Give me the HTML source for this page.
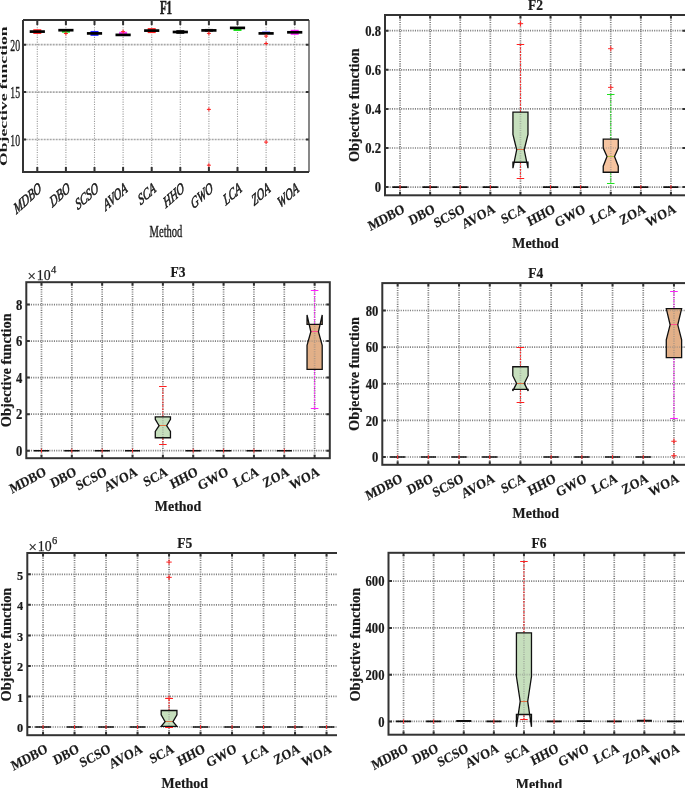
<!DOCTYPE html>
<html><head><meta charset="utf-8"><style>
html,body{margin:0;padding:0;background:#fff;width:685px;height:788px;overflow:hidden}
svg{display:block;will-change:transform;font-family:"Liberation Serif", serif}
text{fill:#1a1a1a}
</style></head><body><div id="w">
<svg width="685" height="788" viewBox="0 0 685 788" font-family='"Liberation Serif", serif' fill="#000">
<defs><filter id="bl" x="0" y="0" width="100%" height="100%" color-interpolation-filters="sRGB"><feConvolveMatrix order="3" kernelMatrix="1 2 1 2 12 2 1 2 1" divisor="24" edgeMode="duplicate"/></filter></defs>
<rect width="685" height="788" fill="#fff"/>
<path d="M37.3 20V172M65.9 20V172M94.5 20V172M123.1 20V172M151.7 20V172M180.3 20V172M208.9 20V172M237.5 20V172M266.1 20V172M294.7 20V172" stroke="#9a9a9a" stroke-width="1.1" stroke-dasharray="1.1 1.3" fill="none"/>
<path d="M23 139.5H309M23 92.1H309M23 44.7H309" stroke="#8a8a8a" stroke-width="1.7" stroke-dasharray="0.75 0.75" fill="none"/>
<rect x="33.3" y="29.25" width="8" height="4.7" fill="#ff2020"/>
<rect x="29.7" y="30.25" width="15.2" height="2.7" fill="#000"/>
<rect x="61.9" y="29.7" width="8" height="3" fill="#20e020"/>
<rect x="58.3" y="28.85" width="15.2" height="2.7" fill="#000"/>
<path d="M63.9 33.5H67.9M65.9 31.5V35.5" stroke="#ff2020" stroke-width="1"/>
<rect x="90.5" y="30.95" width="8" height="4.9" fill="#2020ff"/>
<rect x="86.9" y="32.05" width="15.2" height="2.7" fill="#000"/>
<rect x="119.1" y="31.75" width="8" height="2.5" fill="#ff40ff"/>
<rect x="115.5" y="33.55" width="15.2" height="2.7" fill="#000"/>
<path d="M121.1 31.6H125.1M123.1 29.6V33.6" stroke="#ff2020" stroke-width="1"/>
<rect x="147.7" y="28.1" width="8" height="5" fill="#ff2020"/>
<rect x="144.1" y="29.25" width="15.2" height="2.7" fill="#000"/>
<rect x="176.3" y="30" width="8" height="4" fill="#333333"/>
<rect x="172.7" y="30.65" width="15.2" height="2.7" fill="#000"/>
<rect x="204.9" y="28.9" width="8" height="3" fill="#555555"/>
<rect x="201.3" y="29.05" width="15.2" height="2.7" fill="#000"/>
<path d="M206.9 33.4H210.9M208.9 31.4V35.4" stroke="#ff2020" stroke-width="1"/>
<path d="M206.9 109.4H210.9M208.9 107.4V111.4" stroke="#ff2020" stroke-width="1"/>
<path d="M206.9 165.2H210.9M208.9 163.2V167.2" stroke="#ff2020" stroke-width="1"/>
<rect x="233.5" y="28" width="8" height="3" fill="#20e020"/>
<rect x="229.9" y="26.55" width="15.2" height="2.7" fill="#000"/>
<rect x="262.1" y="31.6" width="8" height="2" fill="#2020ff"/>
<rect x="258.5" y="32.05" width="15.2" height="2.7" fill="#000"/>
<path d="M264.1 36.1H268.1M266.1 34.1V38.1" stroke="#ff2020" stroke-width="1"/>
<path d="M264.1 43.5H268.1M266.1 41.5V45.5" stroke="#ff2020" stroke-width="1"/>
<path d="M264.1 142.1H268.1M266.1 140.1V144.1" stroke="#ff2020" stroke-width="1"/>
<rect x="290.7" y="29.8" width="8" height="5" fill="#ff20ff"/>
<rect x="287.1" y="30.95" width="15.2" height="2.7" fill="#000"/>
<path d="M37.3 172v-5M37.3 20v5M65.9 172v-5M65.9 20v5M94.5 172v-5M94.5 20v5M123.1 172v-5M123.1 20v5M151.7 172v-5M151.7 20v5M180.3 172v-5M180.3 20v5M208.9 172v-5M208.9 20v5M237.5 172v-5M237.5 20v5M266.1 172v-5M266.1 20v5M294.7 172v-5M294.7 20v5M23 139.5h3M309 139.5h-3M23 92.1h3M309 92.1h-3M23 44.7h3M309 44.7h-3" stroke="#333333" stroke-width="2" fill="none"/>
<path d="M309 20V172" stroke="#555" stroke-width="1.4"/>
<path d="M23 20V172H309M23 20H309" stroke="#333333" stroke-width="2" fill="none"/>
<text transform="translate(20.1 145.7) scale(0.61 1)" text-anchor="end" font-size="16" stroke="#222" stroke-width="0.35">10</text>
<text transform="translate(20.1 98.3) scale(0.61 1)" text-anchor="end" font-size="16" stroke="#222" stroke-width="0.35">15</text>
<text transform="translate(20.1 50.9) scale(0.61 1)" text-anchor="end" font-size="16" stroke="#222" stroke-width="0.35">20</text>
<text transform="translate(42.1 191) scale(0.64 1) rotate(-30)" text-anchor="end" font-style="italic" font-size="16.2" stroke="#222" stroke-width="0.6">MDBO</text>
<text transform="translate(70.7 191) scale(0.64 1) rotate(-30)" text-anchor="end" font-style="italic" font-size="16.2" stroke="#222" stroke-width="0.6">DBO</text>
<text transform="translate(99.3 191) scale(0.64 1) rotate(-30)" text-anchor="end" font-style="italic" font-size="16.2" stroke="#222" stroke-width="0.6">SCSO</text>
<text transform="translate(127.9 191) scale(0.64 1) rotate(-30)" text-anchor="end" font-style="italic" font-size="16.2" stroke="#222" stroke-width="0.6">AVOA</text>
<text transform="translate(156.5 191) scale(0.64 1) rotate(-30)" text-anchor="end" font-style="italic" font-size="16.2" stroke="#222" stroke-width="0.6">SCA</text>
<text transform="translate(185.1 191) scale(0.64 1) rotate(-30)" text-anchor="end" font-style="italic" font-size="16.2" stroke="#222" stroke-width="0.6">HHO</text>
<text transform="translate(213.7 191) scale(0.64 1) rotate(-30)" text-anchor="end" font-style="italic" font-size="16.2" stroke="#222" stroke-width="0.6">GWO</text>
<text transform="translate(242.3 191) scale(0.64 1) rotate(-30)" text-anchor="end" font-style="italic" font-size="16.2" stroke="#222" stroke-width="0.6">LCA</text>
<text transform="translate(270.9 191) scale(0.64 1) rotate(-30)" text-anchor="end" font-style="italic" font-size="16.2" stroke="#222" stroke-width="0.6">ZOA</text>
<text transform="translate(299.5 191) scale(0.64 1) rotate(-30)" text-anchor="end" font-style="italic" font-size="16.2" stroke="#222" stroke-width="0.6">WOA</text>
<text transform="translate(166 236.6) scale(0.61 1)" text-anchor="middle" font-size="17.3" stroke="#222" stroke-width="0.4">Method</text>
<text transform="translate(166 13.5) scale(0.61 1)" text-anchor="middle" font-weight="bold" font-size="18" stroke="#222" stroke-width="0.6">F1</text>
<text transform="translate(7.0 96.2) scale(0.61 1) rotate(-90)" text-anchor="middle" font-weight="bold" font-size="17.65">Objective function</text>
<clipPath id="c2"><rect x="385" y="15" width="301" height="180.3"/></clipPath>
<clipPath id="o2"><rect x="0" y="0" width="700" height="788"/></clipPath>
<g clip-path="url(#o2)">
<path d="M400.05 15V195.3M430.15 15V195.3M460.25 15V195.3M490.35 15V195.3M520.45 15V195.3M550.55 15V195.3M580.65 15V195.3M610.75 15V195.3M640.85 15V195.3M670.95 15V195.3M385 187.1H686M385 148H686M385 108.9H686M385 69.8H686M385 30.7H686" stroke="#808080" stroke-width="1.7" stroke-dasharray="1.1 1.2" fill="none"/>
<g clip-path="url(#c2)">
<path d="M392.53 187.1H407.57" stroke="#111" stroke-width="1.6"/>
<path d="M400.05 185.1V189.1" stroke="#ff3030" stroke-width="1"/>
<path d="M422.62 187.1H437.67" stroke="#111" stroke-width="1.6"/>
<path d="M430.15 185.1V189.1" stroke="#ff3030" stroke-width="1"/>
<path d="M452.73 187.1H467.77" stroke="#111" stroke-width="1.6"/>
<path d="M460.25 185.1V189.1" stroke="#ff3030" stroke-width="1"/>
<path d="M482.83 187.1H497.88" stroke="#111" stroke-width="1.6"/>
<path d="M490.35 185.1V189.1" stroke="#ff3030" stroke-width="1"/>
<path d="M520.45 112.22V44.38M520.45 162.27V178.3" stroke="#ff2020" stroke-width="1" stroke-dasharray="2 1.3"/>
<path d="M516.69 44.5H524.21M516.69 178.5H524.21" stroke="#ff2020" stroke-width="1"/>
<path d="M512.93 112.22 L512.93 134.31 L516.69 149.76 L512.93 168.14 L512.93 162.27 L527.98 162.27 L527.98 168.14 L524.21 149.76 L527.98 134.31 L527.98 112.22Z" fill="#c6dfbd" stroke="none"/>
<clipPath id="b24"><path d="M512.93 112.22 L512.93 134.31 L516.69 149.76 L512.93 168.14 L512.93 162.27 L527.98 162.27 L527.98 168.14 L524.21 149.76 L527.98 134.31 L527.98 112.22Z"/></clipPath>
<path clip-path="url(#b24)" d="M400.05 15V195.3M430.15 15V195.3M460.25 15V195.3M490.35 15V195.3M520.45 15V195.3M550.55 15V195.3M580.65 15V195.3M610.75 15V195.3M640.85 15V195.3M670.95 15V195.3M385 187.1H686M385 148H686M385 108.9H686M385 69.8H686M385 30.7H686" stroke="#808080" stroke-width="1.7" stroke-dasharray="1.1 1.2" fill="none" opacity="0.45"/>
<path d="M516.69 149.5H524.21" stroke="#e07040" stroke-width="1"/>
<path d="M512.93 112.22 L512.93 134.31 L516.69 149.76 L512.93 168.14 L512.93 162.27 L527.98 162.27 L527.98 168.14 L524.21 149.76 L527.98 134.31 L527.98 112.22Z" fill="none" stroke="#111" stroke-width="1.3" stroke-linejoin="miter"/>
<path d="M517.75 23.66H523.15M520.45 20.96V26.36" stroke="#ff2020" stroke-width="1"/>
<path d="M543.02 187.1H558.07" stroke="#111" stroke-width="1.6"/>
<path d="M550.55 185.1V189.1" stroke="#ff3030" stroke-width="1"/>
<path d="M573.12 187.1H588.17" stroke="#111" stroke-width="1.6"/>
<path d="M580.65 185.1V189.1" stroke="#ff3030" stroke-width="1"/>
<path d="M610.75 139.2V94.24M610.75 172.24V183.09" stroke="#20e020" stroke-width="1" stroke-dasharray="2 1.3"/>
<path d="M606.99 94.5H614.51M606.99 183.5H614.51" stroke="#20e020" stroke-width="1"/>
<path d="M603.23 139.2 L603.23 148 L606.99 156.6 L603.23 166.18 L603.23 172.24 L618.27 172.24 L618.27 166.18 L614.51 156.6 L618.27 148 L618.27 139.2Z" fill="#f6c4a0" stroke="none"/>
<clipPath id="b27"><path d="M603.23 139.2 L603.23 148 L606.99 156.6 L603.23 166.18 L603.23 172.24 L618.27 172.24 L618.27 166.18 L614.51 156.6 L618.27 148 L618.27 139.2Z"/></clipPath>
<path clip-path="url(#b27)" d="M400.05 15V195.3M430.15 15V195.3M460.25 15V195.3M490.35 15V195.3M520.45 15V195.3M550.55 15V195.3M580.65 15V195.3M610.75 15V195.3M640.85 15V195.3M670.95 15V195.3M385 187.1H686M385 148H686M385 108.9H686M385 69.8H686M385 30.7H686" stroke="#808080" stroke-width="1.7" stroke-dasharray="1.1 1.2" fill="none" opacity="0.45"/>
<path d="M606.99 156.5H614.51" stroke="#b0c040" stroke-width="1"/>
<path d="M603.23 139.2 L603.23 148 L606.99 156.6 L603.23 166.18 L603.23 172.24 L618.27 172.24 L618.27 166.18 L614.51 156.6 L618.27 148 L618.27 139.2Z" fill="none" stroke="#111" stroke-width="1.3" stroke-linejoin="miter"/>
<path d="M608.05 48.69H613.45M610.75 45.99V51.39" stroke="#ff3030" stroke-width="1"/>
<path d="M608.05 87.39H613.45M610.75 84.69V90.09" stroke="#ff3030" stroke-width="1"/>
<path d="M633.33 187.1H648.38" stroke="#111" stroke-width="1.6"/>
<path d="M640.85 185.1V189.1" stroke="#ff3030" stroke-width="1"/>
<path d="M663.43 187.1H678.48" stroke="#111" stroke-width="1.6"/>
<path d="M670.95 185.1V189.1" stroke="#ff3030" stroke-width="1"/>
</g>
<path d="M400.05 195.3v-3.5M400.05 15v3.5M430.15 195.3v-3.5M430.15 15v3.5M460.25 195.3v-3.5M460.25 15v3.5M490.35 195.3v-3.5M490.35 15v3.5M520.45 195.3v-3.5M520.45 15v3.5M550.55 195.3v-3.5M550.55 15v3.5M580.65 195.3v-3.5M580.65 15v3.5M610.75 195.3v-3.5M610.75 15v3.5M640.85 195.3v-3.5M640.85 15v3.5M670.95 195.3v-3.5M670.95 15v3.5M385 187.1h3.5M686 187.1h-3.5M385 148h3.5M686 148h-3.5M385 108.9h3.5M686 108.9h-3.5M385 69.8h3.5M686 69.8h-3.5M385 30.7h3.5M686 30.7h-3.5" stroke="#333333" stroke-width="2" fill="none"/>
<rect x="385" y="15" width="301" height="180.3" fill="none" stroke="#333333" stroke-width="2"/>
<text transform="translate(381 192.4) scale(0.93 1)" text-anchor="end" font-weight="bold" stroke="#1a1a1a" stroke-width="0.2" font-size="13.6">0</text>
<text transform="translate(381 153.3) scale(0.93 1)" text-anchor="end" font-weight="bold" stroke="#1a1a1a" stroke-width="0.2" font-size="13.6">0.2</text>
<text transform="translate(381 114.2) scale(0.93 1)" text-anchor="end" font-weight="bold" stroke="#1a1a1a" stroke-width="0.2" font-size="13.6">0.4</text>
<text transform="translate(381 75.1) scale(0.93 1)" text-anchor="end" font-weight="bold" stroke="#1a1a1a" stroke-width="0.2" font-size="13.6">0.6</text>
<text transform="translate(381 36) scale(0.93 1)" text-anchor="end" font-weight="bold" stroke="#1a1a1a" stroke-width="0.2" font-size="13.6">0.8</text>
<text transform="translate(405.65 211.9) scale(0.9 1) rotate(-26)" text-anchor="end" font-weight="bold" stroke="#1a1a1a" stroke-width="0.2" font-size="14">MDBO</text>
<text transform="translate(435.75 211.9) scale(0.9 1) rotate(-26)" text-anchor="end" font-weight="bold" stroke="#1a1a1a" stroke-width="0.2" font-size="14">DBO</text>
<text transform="translate(465.85 211.9) scale(0.9 1) rotate(-26)" text-anchor="end" font-weight="bold" stroke="#1a1a1a" stroke-width="0.2" font-size="14">SCSO</text>
<text transform="translate(495.95 211.9) scale(0.9 1) rotate(-26)" text-anchor="end" font-weight="bold" stroke="#1a1a1a" stroke-width="0.2" font-size="14">AVOA</text>
<text transform="translate(526.05 211.9) scale(0.9 1) rotate(-26)" text-anchor="end" font-weight="bold" stroke="#1a1a1a" stroke-width="0.2" font-size="14">SCA</text>
<text transform="translate(556.15 211.9) scale(0.9 1) rotate(-26)" text-anchor="end" font-weight="bold" stroke="#1a1a1a" stroke-width="0.2" font-size="14">HHO</text>
<text transform="translate(586.25 211.9) scale(0.9 1) rotate(-26)" text-anchor="end" font-weight="bold" stroke="#1a1a1a" stroke-width="0.2" font-size="14">GWO</text>
<text transform="translate(616.35 211.9) scale(0.9 1) rotate(-26)" text-anchor="end" font-weight="bold" stroke="#1a1a1a" stroke-width="0.2" font-size="14">LCA</text>
<text transform="translate(646.45 211.9) scale(0.9 1) rotate(-26)" text-anchor="end" font-weight="bold" stroke="#1a1a1a" stroke-width="0.2" font-size="14">ZOA</text>
<text transform="translate(676.55 211.9) scale(0.9 1) rotate(-26)" text-anchor="end" font-weight="bold" stroke="#1a1a1a" stroke-width="0.2" font-size="14">WOA</text>
<text transform="translate(535.5 247.8) scale(0.96 1)" text-anchor="middle" font-weight="bold" stroke="#1a1a1a" stroke-width="0.2" font-size="14.5">Method</text>
<text transform="translate(535.5 9.8) scale(0.93 1)" text-anchor="middle" font-weight="bold" stroke="#1a1a1a" stroke-width="0.2" font-size="14.5">F2</text>
<text transform="translate(359.3 105.15) scale(1.06 1) rotate(-90)" text-anchor="middle" font-weight="bold" font-size="14.4" stroke="#1a1a1a" stroke-width="0.2">Objective function</text>
</g>
<clipPath id="c3"><rect x="26.3" y="282.2" width="303.5" height="176"/></clipPath>
<clipPath id="o3"><rect x="0" y="0" width="700" height="788"/></clipPath>
<g clip-path="url(#o3)">
<path d="M41.48 282.2V458.2M71.83 282.2V458.2M102.17 282.2V458.2M132.53 282.2V458.2M162.88 282.2V458.2M193.23 282.2V458.2M223.58 282.2V458.2M253.93 282.2V458.2M284.28 282.2V458.2M314.62 282.2V458.2M26.3 450.7H329.8M26.3 414.16H329.8M26.3 377.62H329.8M26.3 341.08H329.8M26.3 304.54H329.8" stroke="#808080" stroke-width="1.7" stroke-dasharray="1.1 1.2" fill="none"/>
<g clip-path="url(#c3)">
<path d="M33.89 450.7H49.06" stroke="#111" stroke-width="1.6"/>
<path d="M41.48 448.7V452.7" stroke="#ff3030" stroke-width="1"/>
<path d="M64.24 450.7H79.41" stroke="#111" stroke-width="1.6"/>
<path d="M71.83 448.7V452.7" stroke="#ff3030" stroke-width="1"/>
<path d="M94.59 450.7H109.76" stroke="#111" stroke-width="1.6"/>
<path d="M102.17 448.7V452.7" stroke="#ff3030" stroke-width="1"/>
<path d="M124.94 450.7H140.11" stroke="#111" stroke-width="1.6"/>
<path d="M132.53 448.7V452.7" stroke="#ff3030" stroke-width="1"/>
<path d="M162.88 416.81V386.57M162.88 437.73V444.85" stroke="#ff2020" stroke-width="1" stroke-dasharray="2 1.3"/>
<path d="M159.08 386.5H166.67M159.08 444.5H166.67" stroke="#ff2020" stroke-width="1"/>
<path d="M155.29 416.81 L155.29 419.28 L159.08 425.67 L155.29 431.52 L155.29 437.73 L170.46 437.73 L170.46 431.52 L166.67 425.67 L170.46 419.28 L170.46 416.81Z" fill="#c6dfbd" stroke="none"/>
<clipPath id="b34"><path d="M155.29 416.81 L155.29 419.28 L159.08 425.67 L155.29 431.52 L155.29 437.73 L170.46 437.73 L170.46 431.52 L166.67 425.67 L170.46 419.28 L170.46 416.81Z"/></clipPath>
<path clip-path="url(#b34)" d="M41.48 282.2V458.2M71.83 282.2V458.2M102.17 282.2V458.2M132.53 282.2V458.2M162.88 282.2V458.2M193.23 282.2V458.2M223.58 282.2V458.2M253.93 282.2V458.2M284.28 282.2V458.2M314.62 282.2V458.2M26.3 450.7H329.8M26.3 414.16H329.8M26.3 377.62H329.8M26.3 341.08H329.8M26.3 304.54H329.8" stroke="#808080" stroke-width="1.7" stroke-dasharray="1.1 1.2" fill="none" opacity="0.45"/>
<path d="M159.08 425.5H166.67" stroke="#e07040" stroke-width="1"/>
<path d="M155.29 416.81 L155.29 419.28 L159.08 425.67 L155.29 431.52 L155.29 437.73 L170.46 437.73 L170.46 431.52 L166.67 425.67 L170.46 419.28 L170.46 416.81Z" fill="none" stroke="#111" stroke-width="1.3" stroke-linejoin="miter"/>
<path d="M185.64 450.7H200.81" stroke="#111" stroke-width="1.6"/>
<path d="M193.23 448.7V452.7" stroke="#ff3030" stroke-width="1"/>
<path d="M215.99 450.7H231.16" stroke="#111" stroke-width="1.6"/>
<path d="M223.58 448.7V452.7" stroke="#ff3030" stroke-width="1"/>
<path d="M246.34 450.7H261.51" stroke="#111" stroke-width="1.6"/>
<path d="M253.93 448.7V452.7" stroke="#ff3030" stroke-width="1"/>
<path d="M276.69 450.7H291.86" stroke="#111" stroke-width="1.6"/>
<path d="M284.28 448.7V452.7" stroke="#ff3030" stroke-width="1"/>
<path d="M314.62 324.45V290.65M314.62 369.4V408.5" stroke="#ff20ff" stroke-width="1" stroke-dasharray="2 1.3"/>
<path d="M310.83 290.5H318.42M310.83 408.5H318.42" stroke="#ff20ff" stroke-width="1"/>
<path d="M307.04 324.45 L307.04 314.95 L310.83 331.76 L307.04 345.28 L307.04 369.4 L322.21 369.4 L322.21 345.28 L318.42 331.76 L322.21 314.95 L322.21 324.45Z" fill="#e2b088" stroke="none"/>
<clipPath id="b39"><path d="M307.04 324.45 L307.04 314.95 L310.83 331.76 L307.04 345.28 L307.04 369.4 L322.21 369.4 L322.21 345.28 L318.42 331.76 L322.21 314.95 L322.21 324.45Z"/></clipPath>
<path clip-path="url(#b39)" d="M41.48 282.2V458.2M71.83 282.2V458.2M102.17 282.2V458.2M132.53 282.2V458.2M162.88 282.2V458.2M193.23 282.2V458.2M223.58 282.2V458.2M253.93 282.2V458.2M284.28 282.2V458.2M314.62 282.2V458.2M26.3 450.7H329.8M26.3 414.16H329.8M26.3 377.62H329.8M26.3 341.08H329.8M26.3 304.54H329.8" stroke="#808080" stroke-width="1.7" stroke-dasharray="1.1 1.2" fill="none" opacity="0.45"/>
<path d="M310.83 331.5H318.42" stroke="#ff5090" stroke-width="1"/>
<path d="M307.04 324.45 L307.04 314.95 L310.83 331.76 L307.04 345.28 L307.04 369.4 L322.21 369.4 L322.21 345.28 L318.42 331.76 L322.21 314.95 L322.21 324.45Z" fill="none" stroke="#111" stroke-width="1.3" stroke-linejoin="miter"/>
</g>
<path d="M41.48 458.2v-3.5M41.48 282.2v3.5M71.83 458.2v-3.5M71.83 282.2v3.5M102.17 458.2v-3.5M102.17 282.2v3.5M132.53 458.2v-3.5M132.53 282.2v3.5M162.88 458.2v-3.5M162.88 282.2v3.5M193.23 458.2v-3.5M193.23 282.2v3.5M223.58 458.2v-3.5M223.58 282.2v3.5M253.93 458.2v-3.5M253.93 282.2v3.5M284.28 458.2v-3.5M284.28 282.2v3.5M314.62 458.2v-3.5M314.62 282.2v3.5M26.3 450.7h3.5M329.8 450.7h-3.5M26.3 414.16h3.5M329.8 414.16h-3.5M26.3 377.62h3.5M329.8 377.62h-3.5M26.3 341.08h3.5M329.8 341.08h-3.5M26.3 304.54h3.5M329.8 304.54h-3.5" stroke="#333333" stroke-width="2" fill="none"/>
<rect x="26.3" y="282.2" width="303.5" height="176" fill="none" stroke="#333333" stroke-width="2"/>
<text transform="translate(22.3 456) scale(0.93 1)" text-anchor="end" font-weight="bold" stroke="#1a1a1a" stroke-width="0.2" font-size="13.6">0</text>
<text transform="translate(22.3 419.46) scale(0.93 1)" text-anchor="end" font-weight="bold" stroke="#1a1a1a" stroke-width="0.2" font-size="13.6">2</text>
<text transform="translate(22.3 382.92) scale(0.93 1)" text-anchor="end" font-weight="bold" stroke="#1a1a1a" stroke-width="0.2" font-size="13.6">4</text>
<text transform="translate(22.3 346.38) scale(0.93 1)" text-anchor="end" font-weight="bold" stroke="#1a1a1a" stroke-width="0.2" font-size="13.6">6</text>
<text transform="translate(22.3 309.84) scale(0.93 1)" text-anchor="end" font-weight="bold" stroke="#1a1a1a" stroke-width="0.2" font-size="13.6">8</text>
<text transform="translate(47.08 474.8) scale(0.9 1) rotate(-26)" text-anchor="end" font-weight="bold" stroke="#1a1a1a" stroke-width="0.2" font-size="14">MDBO</text>
<text transform="translate(77.42 474.8) scale(0.9 1) rotate(-26)" text-anchor="end" font-weight="bold" stroke="#1a1a1a" stroke-width="0.2" font-size="14">DBO</text>
<text transform="translate(107.77 474.8) scale(0.9 1) rotate(-26)" text-anchor="end" font-weight="bold" stroke="#1a1a1a" stroke-width="0.2" font-size="14">SCSO</text>
<text transform="translate(138.12 474.8) scale(0.9 1) rotate(-26)" text-anchor="end" font-weight="bold" stroke="#1a1a1a" stroke-width="0.2" font-size="14">AVOA</text>
<text transform="translate(168.48 474.8) scale(0.9 1) rotate(-26)" text-anchor="end" font-weight="bold" stroke="#1a1a1a" stroke-width="0.2" font-size="14">SCA</text>
<text transform="translate(198.83 474.8) scale(0.9 1) rotate(-26)" text-anchor="end" font-weight="bold" stroke="#1a1a1a" stroke-width="0.2" font-size="14">HHO</text>
<text transform="translate(229.18 474.8) scale(0.9 1) rotate(-26)" text-anchor="end" font-weight="bold" stroke="#1a1a1a" stroke-width="0.2" font-size="14">GWO</text>
<text transform="translate(259.53 474.8) scale(0.9 1) rotate(-26)" text-anchor="end" font-weight="bold" stroke="#1a1a1a" stroke-width="0.2" font-size="14">LCA</text>
<text transform="translate(289.88 474.8) scale(0.9 1) rotate(-26)" text-anchor="end" font-weight="bold" stroke="#1a1a1a" stroke-width="0.2" font-size="14">ZOA</text>
<text transform="translate(320.23 474.8) scale(0.9 1) rotate(-26)" text-anchor="end" font-weight="bold" stroke="#1a1a1a" stroke-width="0.2" font-size="14">WOA</text>
<text transform="translate(178.05 510.7) scale(0.96 1)" text-anchor="middle" font-weight="bold" stroke="#1a1a1a" stroke-width="0.2" font-size="14.5">Method</text>
<text transform="translate(178.05 277) scale(0.93 1)" text-anchor="middle" font-weight="bold" stroke="#1a1a1a" stroke-width="0.2" font-size="14.5">F3</text>
<text transform="translate(10.6 370.2) scale(1.06 1) rotate(-90)" text-anchor="middle" font-weight="bold" font-size="14.4" stroke="#1a1a1a" stroke-width="0.2">Objective function</text>
<text transform="translate(27.4 279.8)" font-size="13.4" stroke="#222" stroke-width="0.25"><tspan dy="1.2" font-size="14.8">×</tspan><tspan dx="1.1" dy="-1.2" font-size="13.8">10</tspan><tspan dx="0.4" dy="-6.4" font-size="10.5">4</tspan></text>
</g>
<clipPath id="c4"><rect x="382.3" y="283.1" width="307" height="181.7"/></clipPath>
<clipPath id="o4"><rect x="0" y="0" width="700" height="788"/></clipPath>
<g clip-path="url(#o4)">
<path d="M397.65 283.1V464.8M428.35 283.1V464.8M459.05 283.1V464.8M489.75 283.1V464.8M520.45 283.1V464.8M551.15 283.1V464.8M581.85 283.1V464.8M612.55 283.1V464.8M643.25 283.1V464.8M673.95 283.1V464.8M382.3 457H689.3M382.3 420.38H689.3M382.3 383.76H689.3M382.3 347.14H689.3M382.3 310.52H689.3" stroke="#808080" stroke-width="1.7" stroke-dasharray="1.1 1.2" fill="none"/>
<g clip-path="url(#c4)">
<path d="M389.98 457H405.33" stroke="#111" stroke-width="1.6"/>
<path d="M397.65 455V459" stroke="#ff3030" stroke-width="1"/>
<path d="M420.68 457H436.03" stroke="#111" stroke-width="1.6"/>
<path d="M428.35 455V459" stroke="#ff3030" stroke-width="1"/>
<path d="M451.38 457H466.73" stroke="#111" stroke-width="1.6"/>
<path d="M459.05 455V459" stroke="#ff3030" stroke-width="1"/>
<path d="M482.07 457H497.43" stroke="#111" stroke-width="1.6"/>
<path d="M489.75 455V459" stroke="#ff3030" stroke-width="1"/>
<path d="M520.45 366.73V347.14M520.45 389.44V402.44" stroke="#ff2020" stroke-width="1" stroke-dasharray="2 1.3"/>
<path d="M516.61 347.5H524.29M516.61 402.5H524.29" stroke="#ff2020" stroke-width="1"/>
<path d="M512.78 366.73 L512.78 375.7 L516.61 383.39 L512.78 390.9 L512.78 389.44 L528.12 389.44 L528.12 390.9 L524.29 383.39 L528.12 375.7 L528.12 366.73Z" fill="#c6dfbd" stroke="none"/>
<clipPath id="b44"><path d="M512.78 366.73 L512.78 375.7 L516.61 383.39 L512.78 390.9 L512.78 389.44 L528.12 389.44 L528.12 390.9 L524.29 383.39 L528.12 375.7 L528.12 366.73Z"/></clipPath>
<path clip-path="url(#b44)" d="M397.65 283.1V464.8M428.35 283.1V464.8M459.05 283.1V464.8M489.75 283.1V464.8M520.45 283.1V464.8M551.15 283.1V464.8M581.85 283.1V464.8M612.55 283.1V464.8M643.25 283.1V464.8M673.95 283.1V464.8M382.3 457H689.3M382.3 420.38H689.3M382.3 383.76H689.3M382.3 347.14H689.3M382.3 310.52H689.3" stroke="#808080" stroke-width="1.7" stroke-dasharray="1.1 1.2" fill="none" opacity="0.45"/>
<path d="M516.61 383.5H524.29" stroke="#e07040" stroke-width="1"/>
<path d="M512.78 366.73 L512.78 375.7 L516.61 383.39 L512.78 390.9 L512.78 389.44 L528.12 389.44 L528.12 390.9 L524.29 383.39 L528.12 375.7 L528.12 366.73Z" fill="none" stroke="#111" stroke-width="1.3" stroke-linejoin="miter"/>
<path d="M543.48 457H558.82" stroke="#111" stroke-width="1.6"/>
<path d="M551.15 455V459" stroke="#ff3030" stroke-width="1"/>
<path d="M574.18 457H589.52" stroke="#111" stroke-width="1.6"/>
<path d="M581.85 455V459" stroke="#ff3030" stroke-width="1"/>
<path d="M604.88 457H620.22" stroke="#111" stroke-width="1.6"/>
<path d="M612.55 455V459" stroke="#ff3030" stroke-width="1"/>
<path d="M635.58 457H650.92" stroke="#111" stroke-width="1.6"/>
<path d="M643.25 455V459" stroke="#ff3030" stroke-width="1"/>
<path d="M673.95 308.69V291.48M673.95 357.58V418.73" stroke="#ff20ff" stroke-width="1" stroke-dasharray="2 1.3"/>
<path d="M670.11 291.5H677.79M670.11 418.5H677.79" stroke="#ff20ff" stroke-width="1"/>
<path d="M666.28 308.69 L666.28 308.69 L670.11 324.8 L666.28 339.82 L666.28 357.58 L681.62 357.58 L681.62 339.82 L677.79 324.8 L681.62 308.69 L681.62 308.69Z" fill="#e2b088" stroke="none"/>
<clipPath id="b49"><path d="M666.28 308.69 L666.28 308.69 L670.11 324.8 L666.28 339.82 L666.28 357.58 L681.62 357.58 L681.62 339.82 L677.79 324.8 L681.62 308.69 L681.62 308.69Z"/></clipPath>
<path clip-path="url(#b49)" d="M397.65 283.1V464.8M428.35 283.1V464.8M459.05 283.1V464.8M489.75 283.1V464.8M520.45 283.1V464.8M551.15 283.1V464.8M581.85 283.1V464.8M612.55 283.1V464.8M643.25 283.1V464.8M673.95 283.1V464.8M382.3 457H689.3M382.3 420.38H689.3M382.3 383.76H689.3M382.3 347.14H689.3M382.3 310.52H689.3" stroke="#808080" stroke-width="1.7" stroke-dasharray="1.1 1.2" fill="none" opacity="0.45"/>
<path d="M670.11 324.5H677.79" stroke="#ff5090" stroke-width="1"/>
<path d="M666.28 308.69 L666.28 308.69 L670.11 324.8 L666.28 339.82 L666.28 357.58 L681.62 357.58 L681.62 339.82 L677.79 324.8 L681.62 308.69 L681.62 308.69Z" fill="none" stroke="#111" stroke-width="1.3" stroke-linejoin="miter"/>
<path d="M671.25 441.25H676.65M673.95 438.55V443.95" stroke="#ff2020" stroke-width="1"/>
<path d="M671.25 455.72H676.65M673.95 453.02V458.42" stroke="#ff2020" stroke-width="1"/>
</g>
<path d="M397.65 464.8v-3.5M397.65 283.1v3.5M428.35 464.8v-3.5M428.35 283.1v3.5M459.05 464.8v-3.5M459.05 283.1v3.5M489.75 464.8v-3.5M489.75 283.1v3.5M520.45 464.8v-3.5M520.45 283.1v3.5M551.15 464.8v-3.5M551.15 283.1v3.5M581.85 464.8v-3.5M581.85 283.1v3.5M612.55 464.8v-3.5M612.55 283.1v3.5M643.25 464.8v-3.5M643.25 283.1v3.5M673.95 464.8v-3.5M673.95 283.1v3.5M382.3 457h3.5M689.3 457h-3.5M382.3 420.38h3.5M689.3 420.38h-3.5M382.3 383.76h3.5M689.3 383.76h-3.5M382.3 347.14h3.5M689.3 347.14h-3.5M382.3 310.52h3.5M689.3 310.52h-3.5" stroke="#333333" stroke-width="2" fill="none"/>
<rect x="382.3" y="283.1" width="307" height="181.7" fill="none" stroke="#333333" stroke-width="2"/>
<text transform="translate(378.3 462.3) scale(0.93 1)" text-anchor="end" font-weight="bold" stroke="#1a1a1a" stroke-width="0.2" font-size="13.6">0</text>
<text transform="translate(378.3 425.68) scale(0.93 1)" text-anchor="end" font-weight="bold" stroke="#1a1a1a" stroke-width="0.2" font-size="13.6">20</text>
<text transform="translate(378.3 389.06) scale(0.93 1)" text-anchor="end" font-weight="bold" stroke="#1a1a1a" stroke-width="0.2" font-size="13.6">40</text>
<text transform="translate(378.3 352.44) scale(0.93 1)" text-anchor="end" font-weight="bold" stroke="#1a1a1a" stroke-width="0.2" font-size="13.6">60</text>
<text transform="translate(378.3 315.82) scale(0.93 1)" text-anchor="end" font-weight="bold" stroke="#1a1a1a" stroke-width="0.2" font-size="13.6">80</text>
<text transform="translate(403.25 481.4) scale(0.9 1) rotate(-26)" text-anchor="end" font-weight="bold" stroke="#1a1a1a" stroke-width="0.2" font-size="14">MDBO</text>
<text transform="translate(433.95 481.4) scale(0.9 1) rotate(-26)" text-anchor="end" font-weight="bold" stroke="#1a1a1a" stroke-width="0.2" font-size="14">DBO</text>
<text transform="translate(464.65 481.4) scale(0.9 1) rotate(-26)" text-anchor="end" font-weight="bold" stroke="#1a1a1a" stroke-width="0.2" font-size="14">SCSO</text>
<text transform="translate(495.35 481.4) scale(0.9 1) rotate(-26)" text-anchor="end" font-weight="bold" stroke="#1a1a1a" stroke-width="0.2" font-size="14">AVOA</text>
<text transform="translate(526.05 481.4) scale(0.9 1) rotate(-26)" text-anchor="end" font-weight="bold" stroke="#1a1a1a" stroke-width="0.2" font-size="14">SCA</text>
<text transform="translate(556.75 481.4) scale(0.9 1) rotate(-26)" text-anchor="end" font-weight="bold" stroke="#1a1a1a" stroke-width="0.2" font-size="14">HHO</text>
<text transform="translate(587.45 481.4) scale(0.9 1) rotate(-26)" text-anchor="end" font-weight="bold" stroke="#1a1a1a" stroke-width="0.2" font-size="14">GWO</text>
<text transform="translate(618.15 481.4) scale(0.9 1) rotate(-26)" text-anchor="end" font-weight="bold" stroke="#1a1a1a" stroke-width="0.2" font-size="14">LCA</text>
<text transform="translate(648.85 481.4) scale(0.9 1) rotate(-26)" text-anchor="end" font-weight="bold" stroke="#1a1a1a" stroke-width="0.2" font-size="14">ZOA</text>
<text transform="translate(679.55 481.4) scale(0.9 1) rotate(-26)" text-anchor="end" font-weight="bold" stroke="#1a1a1a" stroke-width="0.2" font-size="14">WOA</text>
<text transform="translate(535.8 518.1) scale(0.96 1)" text-anchor="middle" font-weight="bold" stroke="#1a1a1a" stroke-width="0.2" font-size="14.5">Method</text>
<text transform="translate(535.8 277.9) scale(0.93 1)" text-anchor="middle" font-weight="bold" stroke="#1a1a1a" stroke-width="0.2" font-size="14.5">F4</text>
<text transform="translate(359.3 373.95) scale(1.06 1) rotate(-90)" text-anchor="middle" font-weight="bold" font-size="14.4" stroke="#1a1a1a" stroke-width="0.2">Objective function</text>
</g>
<clipPath id="c5"><rect x="27.3" y="553" width="309.7" height="182.2"/></clipPath>
<clipPath id="o5"><rect x="0" y="0" width="337" height="788"/></clipPath>
<g clip-path="url(#o5)">
<path d="M43.05 553V735.2M74.55 553V735.2M106.05 553V735.2M137.55 553V735.2M169.05 553V735.2M200.55 553V735.2M232.05 553V735.2M263.55 553V735.2M295.05 553V735.2M326.55 553V735.2M27.3 727H342.3M27.3 696.46H342.3M27.3 665.92H342.3M27.3 635.38H342.3M27.3 604.84H342.3M27.3 574.3H342.3" stroke="#808080" stroke-width="1.7" stroke-dasharray="1.1 1.2" fill="none"/>
<g clip-path="url(#c5)">
<path d="M35.17 727H50.92" stroke="#111" stroke-width="1.6"/>
<path d="M43.05 725V729" stroke="#ff3030" stroke-width="1"/>
<path d="M66.67 727H82.42" stroke="#111" stroke-width="1.6"/>
<path d="M74.55 725V729" stroke="#ff3030" stroke-width="1"/>
<path d="M98.17 727H113.92" stroke="#111" stroke-width="1.6"/>
<path d="M106.05 725V729" stroke="#ff3030" stroke-width="1"/>
<path d="M129.68 727H145.43" stroke="#111" stroke-width="1.6"/>
<path d="M137.55 725V729" stroke="#ff3030" stroke-width="1"/>
<path d="M169.05 710.51V698.29M169.05 726.39V727" stroke="#ff2020" stroke-width="1" stroke-dasharray="2 1.3"/>
<path d="M165.11 698.5H172.99M165.11 727.5H172.99" stroke="#ff2020" stroke-width="1"/>
<path d="M161.18 710.51 L161.18 714.78 L165.11 721.62 L161.18 726.39 L161.18 726.39 L176.93 726.39 L176.93 726.39 L172.99 721.62 L176.93 714.78 L176.93 710.51Z" fill="#c6dfbd" stroke="none"/>
<clipPath id="b54"><path d="M161.18 710.51 L161.18 714.78 L165.11 721.62 L161.18 726.39 L161.18 726.39 L176.93 726.39 L176.93 726.39 L172.99 721.62 L176.93 714.78 L176.93 710.51Z"/></clipPath>
<path clip-path="url(#b54)" d="M43.05 553V735.2M74.55 553V735.2M106.05 553V735.2M137.55 553V735.2M169.05 553V735.2M200.55 553V735.2M232.05 553V735.2M263.55 553V735.2M295.05 553V735.2M326.55 553V735.2M27.3 727H342.3M27.3 696.46H342.3M27.3 665.92H342.3M27.3 635.38H342.3M27.3 604.84H342.3M27.3 574.3H342.3" stroke="#808080" stroke-width="1.7" stroke-dasharray="1.1 1.2" fill="none" opacity="0.45"/>
<path d="M165.11 721.5H172.99" stroke="#e07040" stroke-width="1"/>
<path d="M161.18 710.51 L161.18 714.78 L165.11 721.62 L161.18 726.39 L161.18 726.39 L176.93 726.39 L176.93 726.39 L172.99 721.62 L176.93 714.78 L176.93 710.51Z" fill="none" stroke="#111" stroke-width="1.3" stroke-linejoin="miter"/>
<path d="M166.35 562.08H171.75M169.05 559.38V564.78" stroke="#ff2020" stroke-width="1"/>
<path d="M166.35 577.35H171.75M169.05 574.65V580.05" stroke="#ff2020" stroke-width="1"/>
<path d="M166.35 698.29H171.75M169.05 695.59V700.99" stroke="#ff2020" stroke-width="1"/>
<path d="M192.68 727H208.43" stroke="#111" stroke-width="1.6"/>
<path d="M200.55 725V729" stroke="#ff3030" stroke-width="1"/>
<path d="M224.18 727H239.93" stroke="#111" stroke-width="1.6"/>
<path d="M232.05 725V729" stroke="#ff3030" stroke-width="1"/>
<path d="M255.68 727H271.43" stroke="#111" stroke-width="1.6"/>
<path d="M263.55 725V729" stroke="#ff3030" stroke-width="1"/>
<path d="M287.18 727H302.93" stroke="#111" stroke-width="1.6"/>
<path d="M295.05 725V729" stroke="#ff3030" stroke-width="1"/>
<path d="M318.68 727H334.43" stroke="#111" stroke-width="1.6"/>
<path d="M326.55 725V729" stroke="#ff3030" stroke-width="1"/>
</g>
<path d="M43.05 735.2v-3.5M43.05 553v3.5M74.55 735.2v-3.5M74.55 553v3.5M106.05 735.2v-3.5M106.05 553v3.5M137.55 735.2v-3.5M137.55 553v3.5M169.05 735.2v-3.5M169.05 553v3.5M200.55 735.2v-3.5M200.55 553v3.5M232.05 735.2v-3.5M232.05 553v3.5M263.55 735.2v-3.5M263.55 553v3.5M295.05 735.2v-3.5M295.05 553v3.5M326.55 735.2v-3.5M326.55 553v3.5M27.3 727h3.5M342.3 727h-3.5M27.3 696.46h3.5M342.3 696.46h-3.5M27.3 665.92h3.5M342.3 665.92h-3.5M27.3 635.38h3.5M342.3 635.38h-3.5M27.3 604.84h3.5M342.3 604.84h-3.5M27.3 574.3h3.5M342.3 574.3h-3.5" stroke="#333333" stroke-width="2" fill="none"/>
<rect x="27.3" y="553" width="315" height="182.2" fill="none" stroke="#333333" stroke-width="2"/>
<text transform="translate(23.3 732.3) scale(0.93 1)" text-anchor="end" font-weight="bold" stroke="#1a1a1a" stroke-width="0.2" font-size="13.3">0</text>
<text transform="translate(23.3 701.76) scale(0.93 1)" text-anchor="end" font-weight="bold" stroke="#1a1a1a" stroke-width="0.2" font-size="13.3">1</text>
<text transform="translate(23.3 671.22) scale(0.93 1)" text-anchor="end" font-weight="bold" stroke="#1a1a1a" stroke-width="0.2" font-size="13.3">2</text>
<text transform="translate(23.3 640.68) scale(0.93 1)" text-anchor="end" font-weight="bold" stroke="#1a1a1a" stroke-width="0.2" font-size="13.3">3</text>
<text transform="translate(23.3 610.14) scale(0.93 1)" text-anchor="end" font-weight="bold" stroke="#1a1a1a" stroke-width="0.2" font-size="13.3">4</text>
<text transform="translate(23.3 579.6) scale(0.93 1)" text-anchor="end" font-weight="bold" stroke="#1a1a1a" stroke-width="0.2" font-size="13.3">5</text>
<text transform="translate(48.65 751.8) scale(0.9 1) rotate(-26)" text-anchor="end" font-weight="bold" stroke="#1a1a1a" stroke-width="0.2" font-size="14">MDBO</text>
<text transform="translate(80.15 751.8) scale(0.9 1) rotate(-26)" text-anchor="end" font-weight="bold" stroke="#1a1a1a" stroke-width="0.2" font-size="14">DBO</text>
<text transform="translate(111.65 751.8) scale(0.9 1) rotate(-26)" text-anchor="end" font-weight="bold" stroke="#1a1a1a" stroke-width="0.2" font-size="14">SCSO</text>
<text transform="translate(143.15 751.8) scale(0.9 1) rotate(-26)" text-anchor="end" font-weight="bold" stroke="#1a1a1a" stroke-width="0.2" font-size="14">AVOA</text>
<text transform="translate(174.65 751.8) scale(0.9 1) rotate(-26)" text-anchor="end" font-weight="bold" stroke="#1a1a1a" stroke-width="0.2" font-size="14">SCA</text>
<text transform="translate(206.15 751.8) scale(0.9 1) rotate(-26)" text-anchor="end" font-weight="bold" stroke="#1a1a1a" stroke-width="0.2" font-size="14">HHO</text>
<text transform="translate(237.65 751.8) scale(0.9 1) rotate(-26)" text-anchor="end" font-weight="bold" stroke="#1a1a1a" stroke-width="0.2" font-size="14">GWO</text>
<text transform="translate(269.15 751.8) scale(0.9 1) rotate(-26)" text-anchor="end" font-weight="bold" stroke="#1a1a1a" stroke-width="0.2" font-size="14">LCA</text>
<text transform="translate(300.65 751.8) scale(0.9 1) rotate(-26)" text-anchor="end" font-weight="bold" stroke="#1a1a1a" stroke-width="0.2" font-size="14">ZOA</text>
<text transform="translate(332.15 751.8) scale(0.9 1) rotate(-26)" text-anchor="end" font-weight="bold" stroke="#1a1a1a" stroke-width="0.2" font-size="14">WOA</text>
<text transform="translate(184.8 788.4) scale(0.96 1)" text-anchor="middle" font-weight="bold" stroke="#1a1a1a" stroke-width="0.2" font-size="14.5">Method</text>
<text transform="translate(184.8 547.8) scale(0.93 1)" text-anchor="middle" font-weight="bold" stroke="#1a1a1a" stroke-width="0.2" font-size="14.5">F5</text>
<text transform="translate(10.6 644.6) scale(1.06 1) rotate(-90)" text-anchor="middle" font-weight="bold" font-size="14.4" stroke="#1a1a1a" stroke-width="0.2">Objective function</text>
<text transform="translate(28.4 550.6)" font-size="13.4" stroke="#222" stroke-width="0.25"><tspan dy="1.2" font-size="14.8">×</tspan><tspan dx="1.1" dy="-1.2" font-size="13.8">10</tspan><tspan dx="0.4" dy="-6.4" font-size="10.5">6</tspan></text>
</g>
<clipPath id="c6"><rect x="388.5" y="552.8" width="301" height="181.9"/></clipPath>
<clipPath id="o6"><rect x="0" y="0" width="700" height="788"/></clipPath>
<g clip-path="url(#o6)">
<path d="M403.55 552.8V734.7M433.65 552.8V734.7M463.75 552.8V734.7M493.85 552.8V734.7M523.95 552.8V734.7M554.05 552.8V734.7M584.15 552.8V734.7M614.25 552.8V734.7M644.35 552.8V734.7M674.45 552.8V734.7M388.5 721.4H689.5M388.5 674.64H689.5M388.5 627.88H689.5M388.5 581.12H689.5" stroke="#808080" stroke-width="1.7" stroke-dasharray="1.1 1.2" fill="none"/>
<g clip-path="url(#c6)">
<path d="M396.03 721.4H411.07" stroke="#111" stroke-width="1.6"/>
<path d="M403.55 719.4V723.4" stroke="#ff3030" stroke-width="1"/>
<path d="M426.12 721.4H441.17" stroke="#111" stroke-width="1.6"/>
<path d="M433.65 719.4V723.4" stroke="#ff3030" stroke-width="1"/>
<path d="M456.23 721.05H471.27" stroke="#111" stroke-width="2"/>
<path d="M486.33 721.4H501.38" stroke="#111" stroke-width="1.6"/>
<path d="M493.85 719.4V723.4" stroke="#ff3030" stroke-width="1"/>
<path d="M523.95 632.79V561.48M523.95 714.5V719.06" stroke="#ff2020" stroke-width="1" stroke-dasharray="2 1.3"/>
<path d="M520.19 561.5H527.71M520.19 719.5H527.71" stroke="#ff2020" stroke-width="1"/>
<path d="M516.43 632.79 L516.43 676.51 L520.19 701.41 L516.43 726.78 L516.43 714.5 L531.48 714.5 L531.48 726.78 L527.71 701.41 L531.48 676.51 L531.48 632.79Z" fill="#c6dfbd" stroke="none"/>
<clipPath id="b64"><path d="M516.43 632.79 L516.43 676.51 L520.19 701.41 L516.43 726.78 L516.43 714.5 L531.48 714.5 L531.48 726.78 L527.71 701.41 L531.48 676.51 L531.48 632.79Z"/></clipPath>
<path clip-path="url(#b64)" d="M403.55 552.8V734.7M433.65 552.8V734.7M463.75 552.8V734.7M493.85 552.8V734.7M523.95 552.8V734.7M554.05 552.8V734.7M584.15 552.8V734.7M614.25 552.8V734.7M644.35 552.8V734.7M674.45 552.8V734.7M388.5 721.4H689.5M388.5 674.64H689.5M388.5 627.88H689.5M388.5 581.12H689.5" stroke="#808080" stroke-width="1.7" stroke-dasharray="1.1 1.2" fill="none" opacity="0.45"/>
<path d="M520.19 701.5H527.71" stroke="#e07040" stroke-width="1"/>
<path d="M516.43 632.79 L516.43 676.51 L520.19 701.41 L516.43 726.78 L516.43 714.5 L531.48 714.5 L531.48 726.78 L527.71 701.41 L531.48 676.51 L531.48 632.79Z" fill="none" stroke="#111" stroke-width="1.3" stroke-linejoin="miter"/>
<path d="M546.52 721.4H561.57" stroke="#111" stroke-width="1.6"/>
<path d="M554.05 719.4V723.4" stroke="#ff3030" stroke-width="1"/>
<path d="M576.62 721.17H591.67" stroke="#111" stroke-width="1.6"/>
<path d="M606.73 721.4H621.77" stroke="#111" stroke-width="1.6"/>
<path d="M614.25 719.4V723.4" stroke="#ff3030" stroke-width="1"/>
<path d="M636.83 720.7H651.88" stroke="#111" stroke-width="2"/>
<path d="M644.35 718.7V722.7" stroke="#ff3030" stroke-width="1"/>
<path d="M666.93 721.4H681.98" stroke="#111" stroke-width="1.6"/>
</g>
<path d="M403.55 734.7v-3.5M403.55 552.8v3.5M433.65 734.7v-3.5M433.65 552.8v3.5M463.75 734.7v-3.5M463.75 552.8v3.5M493.85 734.7v-3.5M493.85 552.8v3.5M523.95 734.7v-3.5M523.95 552.8v3.5M554.05 734.7v-3.5M554.05 552.8v3.5M584.15 734.7v-3.5M584.15 552.8v3.5M614.25 734.7v-3.5M614.25 552.8v3.5M644.35 734.7v-3.5M644.35 552.8v3.5M674.45 734.7v-3.5M674.45 552.8v3.5M388.5 721.4h3.5M689.5 721.4h-3.5M388.5 674.64h3.5M689.5 674.64h-3.5M388.5 627.88h3.5M689.5 627.88h-3.5M388.5 581.12h3.5M689.5 581.12h-3.5" stroke="#333333" stroke-width="2" fill="none"/>
<rect x="388.5" y="552.8" width="301" height="181.9" fill="none" stroke="#333333" stroke-width="2"/>
<text transform="translate(384.5 726.7) scale(0.93 1)" text-anchor="end" font-weight="bold" stroke="#1a1a1a" stroke-width="0.2" font-size="13.6">0</text>
<text transform="translate(384.5 679.94) scale(0.93 1)" text-anchor="end" font-weight="bold" stroke="#1a1a1a" stroke-width="0.2" font-size="13.6">200</text>
<text transform="translate(384.5 633.18) scale(0.93 1)" text-anchor="end" font-weight="bold" stroke="#1a1a1a" stroke-width="0.2" font-size="13.6">400</text>
<text transform="translate(384.5 586.42) scale(0.93 1)" text-anchor="end" font-weight="bold" stroke="#1a1a1a" stroke-width="0.2" font-size="13.6">600</text>
<text transform="translate(409.15 751.3) scale(0.9 1) rotate(-26)" text-anchor="end" font-weight="bold" stroke="#1a1a1a" stroke-width="0.2" font-size="14">MDBO</text>
<text transform="translate(439.25 751.3) scale(0.9 1) rotate(-26)" text-anchor="end" font-weight="bold" stroke="#1a1a1a" stroke-width="0.2" font-size="14">DBO</text>
<text transform="translate(469.35 751.3) scale(0.9 1) rotate(-26)" text-anchor="end" font-weight="bold" stroke="#1a1a1a" stroke-width="0.2" font-size="14">SCSO</text>
<text transform="translate(499.45 751.3) scale(0.9 1) rotate(-26)" text-anchor="end" font-weight="bold" stroke="#1a1a1a" stroke-width="0.2" font-size="14">AVOA</text>
<text transform="translate(529.55 751.3) scale(0.9 1) rotate(-26)" text-anchor="end" font-weight="bold" stroke="#1a1a1a" stroke-width="0.2" font-size="14">SCA</text>
<text transform="translate(559.65 751.3) scale(0.9 1) rotate(-26)" text-anchor="end" font-weight="bold" stroke="#1a1a1a" stroke-width="0.2" font-size="14">HHO</text>
<text transform="translate(589.75 751.3) scale(0.9 1) rotate(-26)" text-anchor="end" font-weight="bold" stroke="#1a1a1a" stroke-width="0.2" font-size="14">GWO</text>
<text transform="translate(619.85 751.3) scale(0.9 1) rotate(-26)" text-anchor="end" font-weight="bold" stroke="#1a1a1a" stroke-width="0.2" font-size="14">LCA</text>
<text transform="translate(649.95 751.3) scale(0.9 1) rotate(-26)" text-anchor="end" font-weight="bold" stroke="#1a1a1a" stroke-width="0.2" font-size="14">ZOA</text>
<text transform="translate(680.05 751.3) scale(0.9 1) rotate(-26)" text-anchor="end" font-weight="bold" stroke="#1a1a1a" stroke-width="0.2" font-size="14">WOA</text>
<text transform="translate(539 788.5) scale(0.96 1)" text-anchor="middle" font-weight="bold" stroke="#1a1a1a" stroke-width="0.2" font-size="14.5">Method</text>
<text transform="translate(539 547.6) scale(0.93 1)" text-anchor="middle" font-weight="bold" stroke="#1a1a1a" stroke-width="0.2" font-size="14.5">F6</text>
<text transform="translate(360.2 644.65) scale(1.06 1) rotate(-90)" text-anchor="middle" font-weight="bold" font-size="14.4" stroke="#1a1a1a" stroke-width="0.2">Objective function</text>
</g>
</svg>
</body></html>
